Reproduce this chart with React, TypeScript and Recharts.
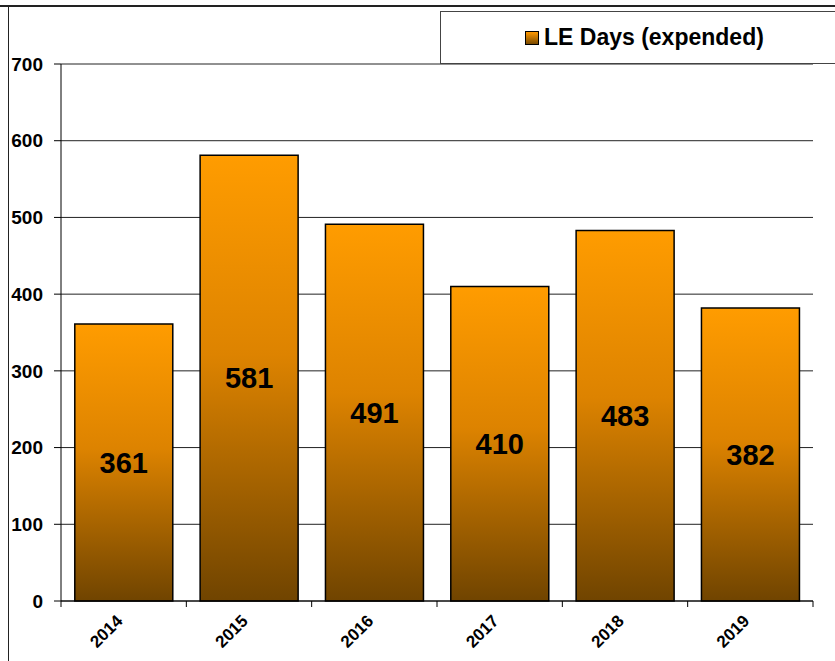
import React from 'react'
import { BarChart, Bar, XAxis, YAxis, CartesianGrid, Legend, LabelList } from 'recharts'

const years = ['2014', '2015', '2016', '2017', '2018', '2019']
const leDays = [361, 581, 491, 410, 483, 382]
const yTicks = [0, 100, 200, 300, 400, 500, 600, 700]

const chartData = years.map((year, i) => ({ year, days: leDays[i] }))

const font = 'Arial, "Liberation Sans", sans-serif'

// year label rotated, plus tick marks on the band edges
const YearTick = (props: any) => {
  const { x, y, payload, index } = props
  const half = payload.offset || 0
  const top = y - 8
  return (
    <g>
      <line x1={x - half} y1={top} x2={x - half} y2={top + 6} stroke="#000" />
      {index === years.length - 1 && (
        <line x1={x + half} y1={top} x2={x + half} y2={top + 6} stroke="#000" />
      )}
      <text
        x={x}
        y={y + 13}
        transform={`rotate(-45 ${x} ${y + 13})`}
        textAnchor="end"
        fontFamily={font}
        fontWeight="bold"
        fontSize={17}
        fill="#000"
      >
        {payload.value}
      </text>
    </g>
  )
}

const LegendBox = () => (
  <div
    style={{
      width: 400,
      height: 53,
      border: '1px solid #444',
      borderRight: 'none',
      background: '#fff',
      boxSizing: 'border-box',
      display: 'flex',
      alignItems: 'center',
      paddingLeft: 84,
      fontFamily: font,
      fontWeight: 'bold',
      fontSize: 23,
      color: '#000',
    }}
  >
    <span
      style={{
        display: 'inline-block',
        width: 12,
        height: 12,
        border: '1px solid #000',
        background: 'linear-gradient(#ff9900, #7a4a00)',
        marginRight: 5,
      }}
    />
    LE Days (expended)
  </div>
)

export default function App() {
  return (
    <div style={{ position: 'absolute', left: 0, top: 0, width: 835, height: 661, background: '#fff', overflow: 'hidden' }}>
      <div style={{ position: 'absolute', left: 0, top: 5, width: 835, height: 0, borderTop: '2px solid #222' }} />
      <div style={{ position: 'absolute', left: 8, top: 6, width: 0, height: 661, borderLeft: '1.5px solid #222' }} />
      <BarChart
        width={835}
        height={661}
        data={chartData}
        margin={{ top: 64, right: 22, bottom: 0, left: 0 }}
        barCategoryGap="11%"
      >
        <defs>
          <linearGradient id="barFill" x1="0" y1="0" x2="0" y2="1">
            <stop offset="0%" stopColor="#ff9c00" />
            <stop offset="45%" stopColor="#dd8300" />
            <stop offset="100%" stopColor="#704400" />
          </linearGradient>
        </defs>
        <CartesianGrid vertical={false} stroke="#222" strokeWidth={1} />
        <XAxis
          dataKey="year"
          height={60}
          stroke="#000"
          tickLine={false}
          tick={<YearTick />}
          interval={0}
        />
        <YAxis
          domain={[0, 700]}
          ticks={yTicks}
          width={61}
          tickSize={7}
          tickMargin={11}
          stroke="#000"
          tick={{ fill: '#000', fontFamily: font, fontWeight: 'bold', fontSize: 19 }}
        />
        <YAxis yAxisId="frame" orientation="right" width={0} tick={false} tickLine={false} stroke="#000" />
        <Legend
          verticalAlign="middle"
          align="center"
          content={() => <LegendBox />}
          wrapperStyle={{ position: 'absolute', left: 440, top: 11, width: 400 }}
        />
        <Bar dataKey="days" name="LE Days (expended)" fill="url(#barFill)" stroke="#000" strokeWidth={1.5} isAnimationActive={false}>
          <LabelList dataKey="days" position="center" fill="#000" fontFamily={font} fontWeight="bold" fontSize={29} />
        </Bar>
      </BarChart>
    </div>
  )
}
